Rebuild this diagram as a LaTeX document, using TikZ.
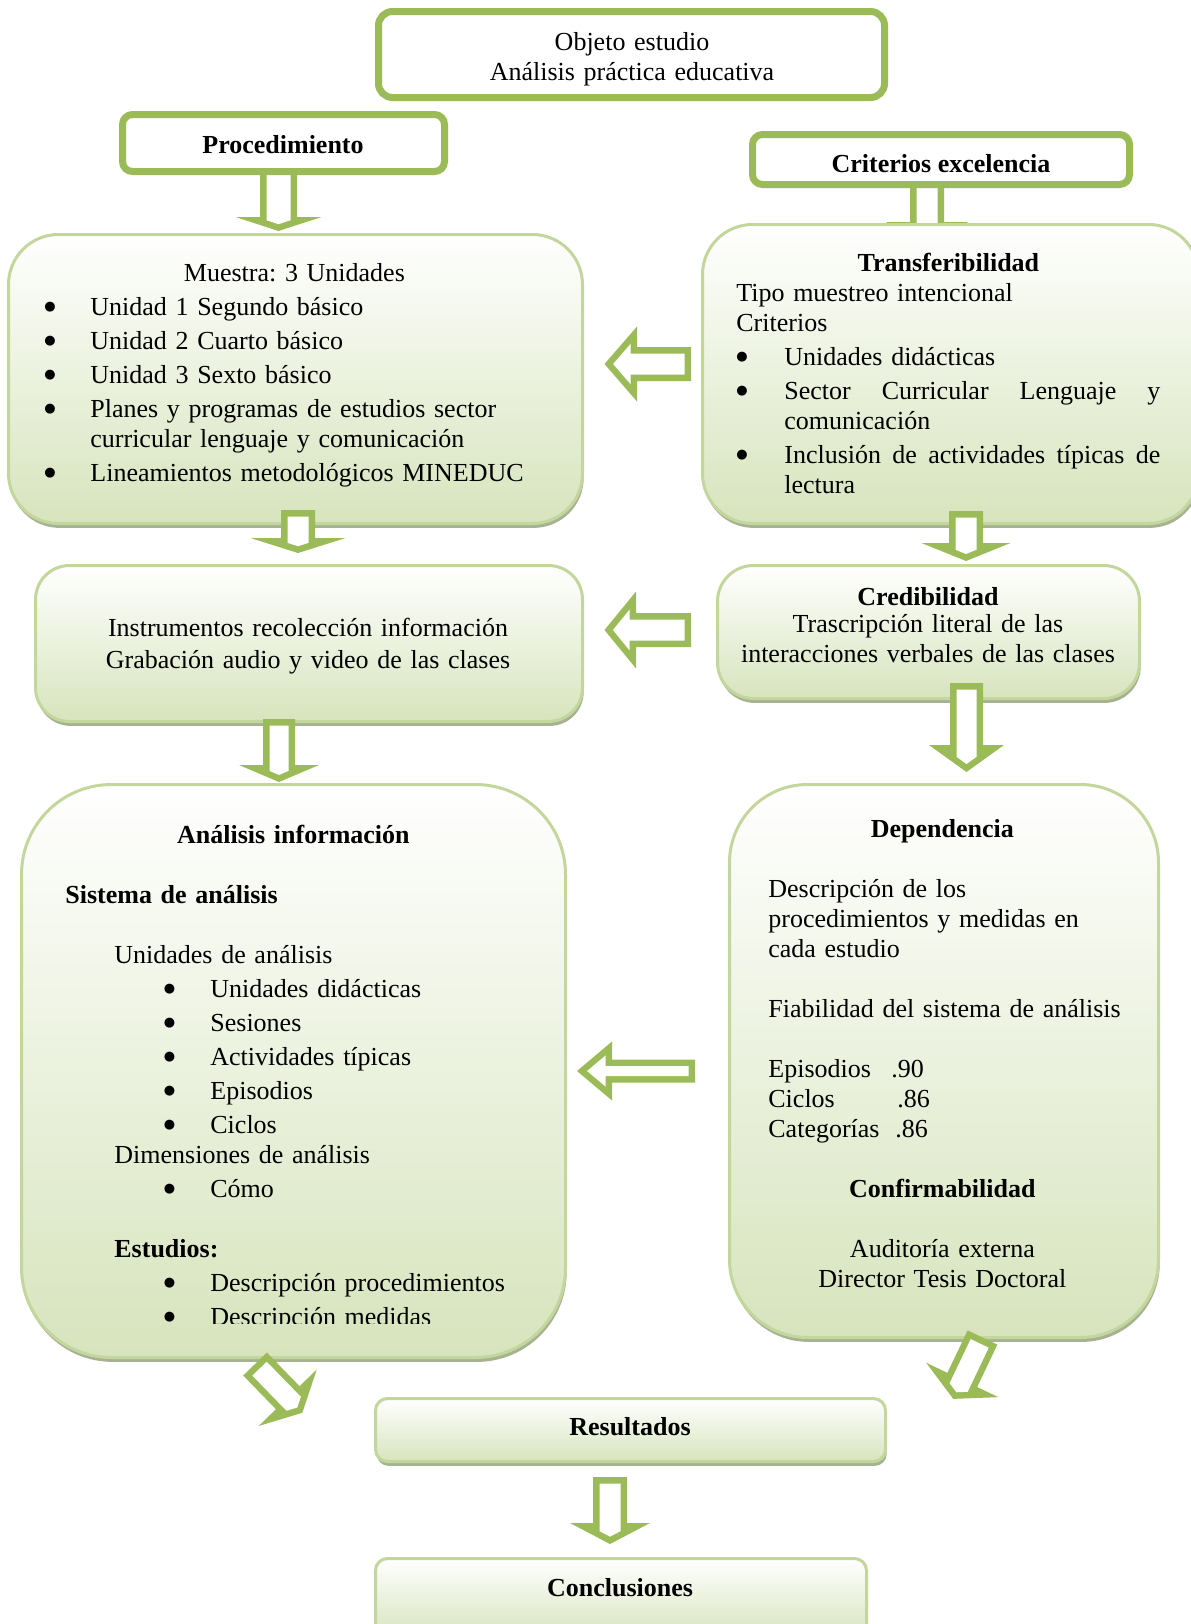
\documentclass[tikz,border=0pt]{standalone}
\usepackage{fontspec}
\setmainfont{Liberation Serif}
\newfontfamily\dotfont{DejaVu Sans}
\usetikzlibrary{shadows}

\definecolor{arrowgreen}{HTML}{9BBB59}
\definecolor{paleborder}{HTML}{C3D69B}
\definecolor{palefill}{HTML}{D7E4BD}
\definecolor{shadowgreen}{HTML}{A7B293}

% stroke width of the block arrows (px)
\def\bks{6.5}

% downward block arrow: centre x, shaft half width, head half width,
% shaft top, head base, tip (outer outline, px)
\newcommand{\blockdown}[6]{%
  \pgfmathsetmacro{\bkoff}{\bks/sin(atan(#3/(#6-#5)))}%
  \pgfmathsetmacro{\bkv}{#6-\bkoff-(#2-\bks)*(#6-#5)/#3}%
  \fill[arrowgreen] (#1-#2,#4) -- (#1-#2,#5) -- (#1-#3,#5) -- (#1,#6)
    -- (#1+#3,#5) -- (#1+#2,#5) -- (#1+#2,#4) -- cycle;
  \fill[white] (#1-#2+\bks,#4+\bks) -- (#1-#2+\bks,\bkv) -- (#1,#6-\bkoff)
    -- (#1+#2-\bks,\bkv) -- (#1+#2-\bks,#4+\bks) -- cycle;}

% leftward block arrow: tip x, centre y, head back x, tail x,
% shaft half height, head half height (outer outline, px)
\newcommand{\blockleft}[6]{%
  \pgfmathsetmacro{\bkoff}{\bks/sin(atan(#6/(#3-#1)))}%
  \pgfmathsetmacro{\bkw}{#2-#6*((#3-\bks)-(#1+\bkoff))/(#3-#1)}%
  \pgfmathsetmacro{\bkww}{#2+#6*((#3-\bks)-(#1+\bkoff))/(#3-#1)}%
  \fill[arrowgreen] (#4,#2-#5) -- (#3,#2-#5) -- (#3,#2-#6) -- (#1,#2)
    -- (#3,#2+#6) -- (#3,#2+#5) -- (#4,#2+#5) -- cycle;
  \fill[white] (#4-\bks,#2-#5+\bks) -- (#3-\bks,#2-#5+\bks) -- (#3-\bks,\bkw)
    -- (#1+\bkoff,#2) -- (#3-\bks,\bkww) -- (#3-\bks,#2+#5-\bks)
    -- (#4-\bks,#2+#5-\bks) -- cycle;}

% list bullet in a box of the given width
\newcommand{\listdot}[1][23pt]{\makebox[#1][l]{{\dotfont\fontsize{6.5}{6.5}\selectfont\raisebox{2.6pt}{●}}}}

\tikzset{
  titlebox/.style={draw=arrowgreen, line width=3.5pt, fill=white, inner sep=0pt},
  softbox/.style={draw=paleborder, line width=1.5pt, top color=white,
    bottom color=palefill, inner sep=0pt,
    drop shadow={shadow xshift=0.6pt, shadow yshift=-2.2pt, fill=shadowgreen, opacity=1}},
  body/.style={inner sep=0pt, font=\fontsize{13}{#1}\selectfont\frenchspacing, align=left, anchor=north west},
  centred/.style={inner sep=0pt, font=\fontsize{13}{#1}\selectfont\frenchspacing, align=center, anchor=north},
  head/.style={inner sep=0pt, font=\fontsize{13}{15}\selectfont\bfseries, anchor=base},
}

\begin{document}
\begin{tikzpicture}[x=0.5pt, y=-0.5pt]
\useasboundingbox (0,0) rectangle (1190,1624);

% arrows that run behind the boxes
\blockdown{278.5}{18.5}{43}{165}{217}{231}
\blockdown{927}{17}{41.5}{180}{222}{240}

% boxes
\node[titlebox, rounded corners=7pt, minimum width=253pt, minimum height=43pt] (objeto) at (631.5,54.5) {};
\node[titlebox, rounded corners=5pt, minimum width=161pt, minimum height=28.5pt] (proc) at (283.5,143) {};
\node[titlebox, rounded corners=5pt, minimum width=188.5pt, minimum height=25pt] (crit) at (941,159.5) {};
\node[softbox, rounded corners=25pt, minimum width=287pt, minimum height=144.5pt] (muestra) at (295.5,379) {};
\node[softbox, rounded corners=25pt, minimum width=248pt, minimum height=149.5pt] (transf) at (950.5,374) {};
\node[softbox, rounded corners=17pt, minimum width=273.5pt, minimum height=78pt] (instr) at (309,643.5) {};
\node[softbox, rounded corners=18pt, minimum width=211pt, minimum height=66.5pt] (cred) at (928.5,632) {};
\node[softbox, rounded corners=45pt, minimum width=272pt, minimum height=286.5pt] (anal) at (293.5,1071) {};
\node[softbox, rounded corners=39pt, minimum width=214.5pt, minimum height=276.5pt] (dep) at (944,1061) {};
\node[softbox, rounded corners=6pt, minimum width=255pt, minimum height=31.5pt] (res) at (630.5,1430) {};
\node[softbox, rounded corners=6pt, minimum width=245.5pt, minimum height=40pt] (concl) at (621,1598.5) {};

% arrows drawn over the boxes
\blockleft{604.5}{364}{637}{691}{17}{37.5}
\blockdown{298}{17}{47.5}{510}{538}{553}
\blockdown{966}{17}{44.5}{511}{543}{561}
\blockleft{604.5}{630}{636}{691}{17}{38.5}
\blockdown{279}{16}{40}{719}{765}{782}
\blockdown{966.5}{16.5}{37.5}{683}{745}{772}
\blockleft{577}{1071}{612}{695}{11.5}{29.5}
\begin{scope}[shift={(255,1364)}, rotate=44.2]
  \blockdown{0}{16.5}{40.5}{0}{47}{68}
\end{scope}
\begin{scope}[shift={(982.5,1337.5)}, rotate=-25.5]
  \blockdown{0}{16.5}{40}{0}{47}{68}
\end{scope}
\blockdown{610}{17}{40}{1477}{1523}{1544}

% texts
\node[centred=15, text width=250pt] (tobjeto) at (632,29)
  {\strut Objeto estudio\\ Análisis práctica educativa};
\node[head] (tproc) at (283,153) {Procedimiento};
\node[head] (tcrit) at (941,172) {Criterios excelencia};

\node[body=17, text width=250pt] (tmuestra) at (44,257) {\strut\makebox[250pt][c]{Muestra: 3 Unidades}\\
  \listdot Unidad 1 Segundo básico\\
  \listdot Unidad 2 Cuarto básico\\
  \listdot Unidad 3 Sexto básico\\
  \listdot Planes y programas de estudios sector\\[-2pt]
  \hspace*{23pt}curricular lenguaje y comunicación\\
  \listdot Lineamientos metodológicos MINEDUC};

\node[body=15, text width=212pt] (ttransf) at (736,250) {\strut\makebox[212pt][c]{\bfseries Transferibilidad}\\
  Tipo muestreo intencional\\
  Criterios\\[2pt]
  \listdot[24pt]Unidades didácticas\\[2pt]
  \listdot[24pt]\hbox to 188pt{Sector\hfill Curricular\hfill Lenguaje\hfill y}\\
  \hspace*{24pt}comunicación\\[2pt]
  \listdot[24pt]\hbox to 188pt{Inclusión\hfill de\hfill actividades\hfill típicas\hfill de}\\
  \hspace*{24pt}lectura};

\node[centred=16, text width=270pt] (tinstr) at (308,614)
  {\strut Instrumentos recolección información\\ Grabación audio y video de las clases};

\node[centred=15, text width=210pt] (tcred) at (928,584)
  {\strut\textbf{Credibilidad}\\[-1.5pt] Trascripción literal de las\\ interacciones verbales de las clases};

\begin{scope}
  \clip (0,700) rectangle (600,1323);
  \node[body=17, text width=228pt] (tanal) at (65,819) {\strut\makebox[228pt][c]{\bfseries Análisis información}\\[13pt]
    \textbf{Sistema de análisis}\\[13pt]
    \hspace*{24.5pt}Unidades de análisis\\
    \hspace*{49.25pt}\listdot[23.25pt]Unidades didácticas\\
    \hspace*{49.25pt}\listdot[23.25pt]Sesiones\\
    \hspace*{49.25pt}\listdot[23.25pt]Actividades típicas\\
    \hspace*{49.25pt}\listdot[23.25pt]Episodios\\
    \hspace*{49.25pt}\listdot[23.25pt]Ciclos\\[-2pt]
    \hspace*{24.5pt}Dimensiones de análisis\\
    \hspace*{49.25pt}\listdot[23.25pt]Cómo\\[13pt]
    \hspace*{24.5pt}\textbf{Estudios:}\\
    \hspace*{49.25pt}\listdot[23.25pt]Descripción procedimientos\\
    \hspace*{49.25pt}\listdot[23.25pt]Descripción medidas};
\end{scope}

\node[body=15, text width=200pt] (tdep) at (768,816) {\strut\makebox[174pt][c]{\bfseries Dependencia}\\[15pt]
  Descripción de los\\
  procedimientos y medidas en\\
  cada estudio\\[15pt]
  Fiabilidad del sistema de análisis\\[15pt]
  \makebox[61.5pt][l]{Episodios}.90\\
  \makebox[64.5pt][l]{Ciclos}.86\\
  \makebox[63.5pt][l]{Categorías}.86\\[15pt]
  \makebox[174pt][c]{\bfseries Confirmabilidad}\\[15pt]
  \makebox[174pt][c]{Auditoría externa}\\
  \makebox[174pt][c]{Director Tesis Doctoral}};

\node[head] (tres) at (630,1435) {Resultados};
\node[head] (tconcl) at (620,1596) {Conclusiones};
\end{tikzpicture}
\end{document}
